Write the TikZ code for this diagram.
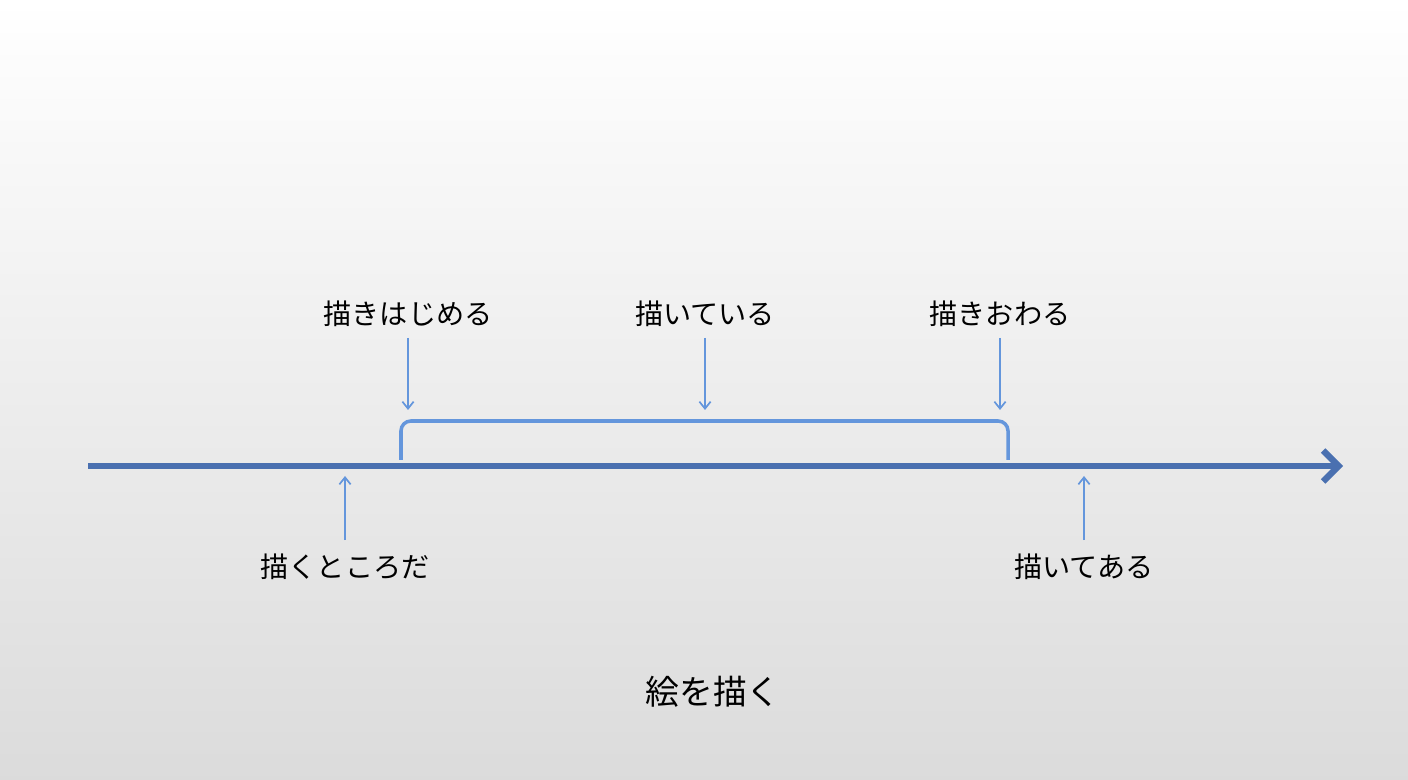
\documentclass[tikz,border=0pt]{standalone}
\usepackage{fontspec}
\setmainfont{Noto Sans CJK JP}
\usetikzlibrary{arrows.meta}
\definecolor{axis}{HTML}{4A70B0}
\definecolor{lite}{HTML}{6496DC}
\begin{document}
\begin{tikzpicture}[x=0.025cm,y=-0.025cm,
  lbl/.style={font=\fontsize{20}{24}\selectfont,inner sep=0pt},
  pt/.style={draw=lite,line width=1.2pt,-{Straight Barb[length=5pt,width=8pt]}}]
\shade[top color=white,bottom color=black!14] (0,0) rectangle (1408,780);
\useasboundingbox (0,0) rectangle (1408,780);
\coordinate (a0) at (88,466); \coordinate (a1) at (1343,466);
\draw[axis,line width=4.5pt,-{Straight Barb[length=11pt,width=22pt,line width=4.5pt]}] (a0) -- (a1);
\coordinate (b0) at (401,460); \coordinate (b1) at (1008,460);
\draw[lite,line width=2.5pt,rounded corners=7] (b0) -- (401,421) -- (1008,421) -- (b1);
\node[lbl] (s) at (408,314) {描きはじめる};
\node[lbl] (m) at (705,314) {描いている};
\node[lbl] (e) at (1000,314) {描きおわる};
\node[lbl] (p) at (345,567) {描くところだ};
\node[lbl] (d) at (1084,567) {描いてある};
\node[lbl,font=\fontsize{24}{28}\selectfont] (t) at (713,692) {絵を描く};
\coordinate (s1) at (408,410); \coordinate (m1) at (705,410);
\coordinate (e1) at (1000,410); \coordinate (p1) at (345,476);
\coordinate (d1) at (1084,476);
\draw[pt] (408,338) -- (s1);
\draw[pt] (705,338) -- (m1);
\draw[pt] (1000,338) -- (e1);
\draw[pt] (345,540) -- (p1);
\draw[pt] (1084,540) -- (d1);
\end{tikzpicture}
\end{document}
